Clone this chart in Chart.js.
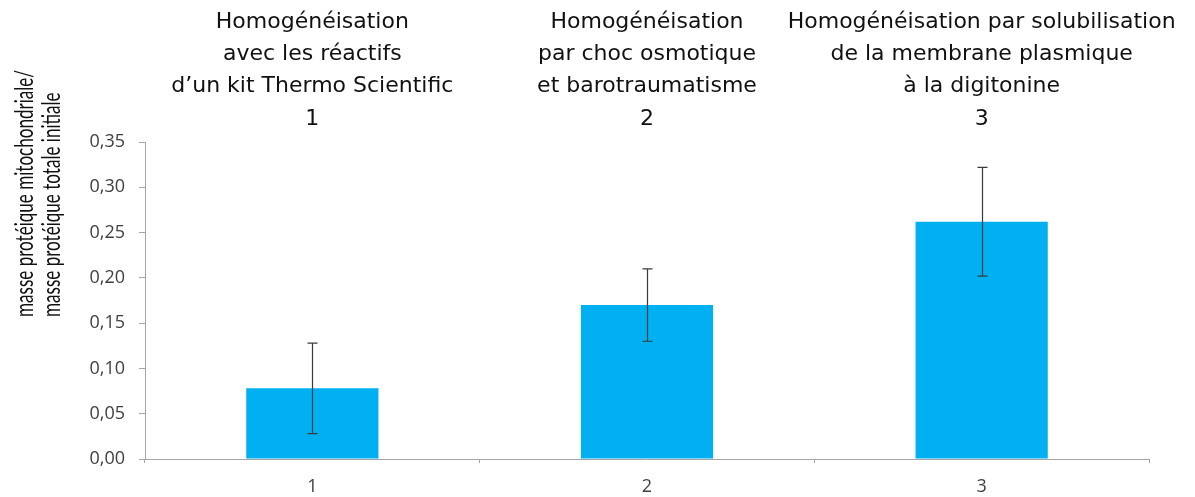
<!DOCTYPE html>
<html lang="fr">
<head>
<meta charset="utf-8">
<title>Rendement en protéines mitochondriales</title>
<script src="https://cdn.jsdelivr.net/npm/chart.js@4.4.1/dist/chart.umd.min.js"></script>
<style>
  html, body { margin: 0; padding: 0; background: #ffffff; }
  canvas { display: block; }
</style>
</head>
<body>
<canvas id="chart" width="1195" height="497"></canvas>
<script>
// Méthodes d'homogénéisation comparées
const categories = ['1', '2', '3'];
const methodTitles = [
  ['Homogénéisation', 'avec les réactifs', 'd\u2019un kit Thermo Scientific', '1'],
  ['Homogénéisation', 'par choc osmotique', 'et barotraumatisme', '2'],
  ['Homogénéisation par solubilisation', 'de la membrane plasmique', '\u00e0 la digitonine', '3']
];
// masse protéique mitochondriale / masse protéique totale initiale
const meanRatio = [0.078, 0.170, 0.262];
const errorRatio = [0.050, 0.040, 0.060];
const yTickValues = [0, 0.05, 0.10, 0.15, 0.20, 0.25, 0.30, 0.35];
const yTitleLines = ['masse prot\u00e9ique mitochondriale/', 'masse prot\u00e9ique totale initiale'];

const AXIS_GREY = '#a6a6a6';
const TEXT_GREY = '#404040';

// Barres d'erreur (moyenne ± écart) tracées via les échelles du graphique
const errorBars = {
  id: 'errorBars',
  afterDatasetsDraw(chart) {
    const meta = chart.getDatasetMeta(0);
    const y = chart.scales.y;
    const ctx = chart.ctx;
    ctx.save();
    ctx.strokeStyle = '#3a3a3a';
    ctx.lineWidth = 1.2;
    meta.data.forEach((bar, i) => {
      const x = Math.round(bar.x) + 0.5;
      const top = y.getPixelForValue(meanRatio[i] + errorRatio[i]);
      const bot = y.getPixelForValue(meanRatio[i] - errorRatio[i]);
      ctx.beginPath();
      ctx.moveTo(x, top); ctx.lineTo(x, bot);
      ctx.moveTo(x - 5, top); ctx.lineTo(x + 5, top);
      ctx.moveTo(x - 5, bot); ctx.lineTo(x + 5, bot);
      ctx.stroke();
    });
    ctx.restore();
  }
};

// Titre de l'axe vertical sur deux lignes, calé en bas
const yAxisTitle = {
  id: 'yAxisTitle',
  afterDraw(chart) {
    const ctx = chart.ctx;
    ctx.save();
    ctx.font = '25px Lato, "Open Sans", sans-serif';
    ctx.fillStyle = '#111111';
    ctx.textAlign = 'left';
    ctx.textBaseline = 'middle';
    const w = ctx.measureText(yTitleLines[0]).width;
    const squeeze = 247 / w;
    const xs = [25, 52];
    yTitleLines.forEach((line, i) => {
      ctx.save();
      ctx.translate(xs[i], 317);
      ctx.rotate(-Math.PI / 2);
      ctx.scale(squeeze, 1);
      ctx.fillText(line, 0, 0);
      ctx.restore();
    });
    ctx.restore();
  }
};

new Chart(document.getElementById('chart'), {
  type: 'bar',
  data: {
    labels: categories,
    datasets: [{
      data: meanRatio,
      backgroundColor: '#00b0f0',
      borderWidth: 0,
      categoryPercentage: 1,
      barPercentage: 0.395,
      xAxisID: 'x',
      yAxisID: 'y'
    }]
  },
  options: {
    responsive: false,
    animation: false,
    layout: { padding: { left: 0, right: 46, top: 0, bottom: 0 } },
    plugins: {
      legend: { display: false },
      tooltip: { enabled: false }
    },
    scales: {
      x: {
        type: 'category',
        position: 'bottom',
        offset: true,
        grid: {
          offset: true,
          drawOnChartArea: false,
          drawTicks: true,
          tickLength: 4,
          color: AXIS_GREY
        },
        border: { display: true, color: AXIS_GREY, width: 1 },
        ticks: {
          color: TEXT_GREY,
          padding: 13,
          font: { family: '"Open Sans", Lato, sans-serif', size: 18 }
        },
        afterFit(s) { s.height = 38; }
      },
      x2: {
        type: 'category',
        labels: methodTitles,
        position: 'top',
        offset: true,
        grid: { display: false, drawTicks: false },
        border: { display: false },
        ticks: {
          color: '#111111',
          padding: 7,
          maxRotation: 0,
          autoSkip: false,
          font: { family: '"DejaVu Sans", sans-serif', size: 22, lineHeight: 1.47 }
        },
        afterFit(s) { s.height = 142; s.paddingLeft = 0; s.paddingRight = 0; }
      },
      y: {
        position: 'left',
        min: 0,
        max: 0.35,
        afterBuildTicks(s) { s.ticks = yTickValues.map(v => ({ value: v })); },
        grid: {
          drawOnChartArea: false,
          drawTicks: true,
          tickLength: 6,
          color: AXIS_GREY
        },
        border: { display: true, color: AXIS_GREY, width: 1 },
        ticks: {
          color: TEXT_GREY,
          padding: 14,
          font: { family: '"Open Sans", Lato, sans-serif', size: 18 },
          callback: v => v.toFixed(2).replace('.', ',')
        },
        afterFit(s) { s.width = 145; }
      }
    }
  },
  plugins: [errorBars, yAxisTitle]
});
</script>
</body>
</html>
